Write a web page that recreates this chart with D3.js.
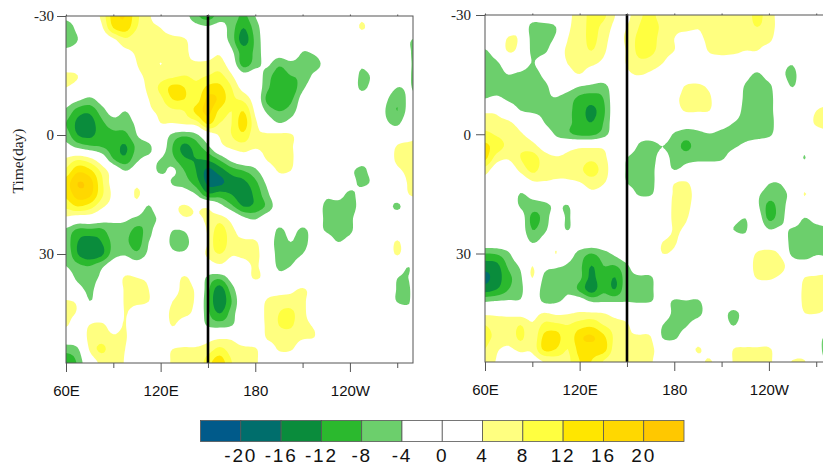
<!DOCTYPE html>
<html><head><meta charset="utf-8">
<script src="https://cdn.jsdelivr.net/npm/d3@7/dist/d3.min.js"></script>
<style>html,body{margin:0;padding:0;background:#fff;overflow:hidden}svg{display:block}</style>
</head><body><svg id="c" width="823" height="466"></svg>
<script>
const levels=[-20,-16,-12,-8,-4,0,4,8,12,16,20];
const bandColors=["#005a8a","#006e6c","#0a8c3c","#2bb92e","#6ccf6c","#ffffff","#ffffff","#ffff80","#ffff40","#ffe600","#ffd800","#ffc800"];
const lonMajor=[60,120,180,240];
const lonMajorLabels=["60E","120E","180","120W"];
const lonMinor=[90,150,210,270];
const dayTicks=[-30,0,30];
const lon0=60,lonStep=7.5,day0=-30,dayStep=3;
const leftField=[
[-3,-2,0,5,14,16,9,4.5,2,0,-2,-7,-10,-6,-5,-9,-4,-1,0,0,0,0,0,0,0,3,0,0,0,0,0],
[-6,-3,-1,3,12,14,8,5,4,2,0,-2,-3,-2,-6,-12,-6,-1,0,0,0,0,0,0,0,4.5,1,0,0,0,0],
[-6,-4,-1,0,3,7,5,5,5,5,4.5,1,0,-1,-6,-14,-7,-1,0,0,-1,0,0,0,0,0,0,0,0,-3.5,-5],
[-3,-2,0,0,1,3,4.5,5,6,6,5,2,1,3,-3,-10,-7,-1,-1,0,-4,-3,0,0,0,0,0,0,0,-3.5,-6],
[0,0,0,0,0,1,4,6,3.9,6,5,4.5,5,6,0,-10,-6,-3,-7,-5,-6,-6,-2,0,0,-3,0,0,-2,-3.5,-6],
[5,4,0,1,0,1,3,5,6,7,8,7,8,9,4.5,-2,-1,-6,-10,-8,-7,-3,-1,0,0,-5,-3,0,-2,-3.6,-6],
[4,2,0,0,0,1,2,5,9,13,12,9,13,13,8,2,0,-7,-11,-11,-5,-1,0,0,0,-5,-2,-1,-4,-3.6,-6],
[-1,-3,-5,-2,0,0,1,4,7,12,12,10,17,15,9,7,1,-9,-11,-9,-2,0,0,0,0,-1,0,-3,-7,-3,-4],
[-5,-10,-11,-6,-2,-4,-1,3,5,7,8,13,17,11,8,12,3,-5,-8,-6,-1,0,0,0,0,0,0,-4,-8,-2,0],
[-8,-13,-14,-9,-6,-6,-3,0,4,4,5,6,13,8,8,14,5,0,-4,-2,0,0,0,0,0,0,0,-3,-5,0,0],
[-6,-12,-13,-10,-9,-9,-4,-1,0,-5,-7,-5,1,4.5,8,11,5,4.5,5,4.5,1,0,0,0,0,0,0,0,0,1,4],
[-2,-5,-7,-8,-10,-12.5,-7,-5,-1,-8,-13,-10,-5,2,5,6,4.5,5,5,4.5,1,0,0,0,0,0,0,0,4.5,6,6],
[4.5,7,5,0,-8,-11,-5,-3,-4,-7,-11.5,-12,-11,-7,-2,1,0,4.5,6,5,0,0,0,0,0,-2,-3,0,5,6,6],
[9,15,13,7,1,-4,-1,-1,-5,-3,-8,-12,-17,-14,-10,-8,-5,0,4.5,4,0,0,0,-1,-3,-5,-2,0,3,5,5],
[14,20,18,9,2,1,3,0,0,-4.5,-6,-10,-17,-17,-14,-13,-9,-3,1,0,0,0,0,0,-2,-5,-3,0,1,4.5,5],
[13,18,17,9,3,1,4.5,1,2,0,-1,-4,-11,-10,-12,-14,-11,-5,0,0,0,0,-3,-2,-5,-2,0,0,0,4,5],
[9,12,10,5,2,1,2,-4.5,3,3,4.5,3,3,-2,-7,-12,-11,-7,-1,0,0,-1,-5,-6,-6,-2,0,-1,-5,0,0],
[3,1,1,-1,-3,-3,-5,-7,-2,1,3.5,3.5,4.5,6,2,-3,-4.5,-1,0,0,0,-1,-5,-7,-5,-1,0,0,0,0,0],
[-5,-9,-9,-9,-5,-6,-9,-6,0,-3.9,-3.5,1,4.5,10,5,2,0,1,-5,-2,-5,-2,-4.5,-6,-5,0,0,0,0,0,0],
[-6,-12,-14,-12,-7,-7,-10,-4,-1,-5,-6,0,4,12,5,4.5,4.5,0,-6,-4,-6,-1,-1,-4,-2,0,0,0,4.5,0,0],
[-5,-12,-15,-13,-6,-4.5,-7,-3,0,-3,-3,0,5,8,4.5,5,5,1,-6,-6,-4,0,0,0,0,0,0,0,4.5,0,0],
[-4,-7,-8,-5,-1,0,-1,0,0,0,0,0,1,3,1,2,4.5,1,-5,-4,0,0,0,0,0,0,0,0,-1,-3.9,0],
[-1,-5,-6,-3,0,4.5,4,3,0,1,4.5,1,-5,-7,-2,1,4.5,2,-2,0,0,0,0,0,0,0,0,0,-3.9,-3.9,0],
[0,-2,-5,-1,0,4.5,5,4,0,2,5,3,-7,-14,-6,0,0,2,2,3,4.5,2,0,0,0,0,0,0,-4.3,-4.3,0],
[4.5,3,-3.9,0,0,4.5,5,4,0,4,5,3,-8,-15,-8,0,1,4.5,6,6,5,1,0,0,0,0,0,0,-4.2,-4.2,0],
[5,3.5,0,0,0,4.2,1,0,1,5,5,2,-7,-12,-6,0,1,5,8,9,5,2,0,0,0,0,0,0,0,-3,-4],
[4.5,1,4.2,5,2,4.2,0,0,0,4.2,1,0,-4.5,-5.5,-4.2,0,1,4.8,8,8.5,5,3.5,0,0,0,0,0,0,0,-3,-4.5],
[-1,0,5,6,4.5,4.5,0,0,0,1,1,1,2,3,3,1,0,4.5,6,6,4.5,4,0,0,0,0,0,0,0,-2,-4],
[-6,-4.5,4.5,9,5,4,0,1,2,4,4.5,4.5,6,9,6,5,4.5,1,4.5,4.5,1,0,0,0,0,0,0,0,0,0,0],
[-12,-7,1,5,4.5,3.8,0,0,1,4.5,5,4.5,10,14,8,7,5,0,1,0,0,0,0,0,0,0,0,0,0,0,0],
[-13,-8,1,5,4.5,3.8,0,0,1,4.5,5,4.5,11,15,8,7,5,0,1,0,0,0,0,0,0,0,0,0,0,0,0]
];
const rightField=[
[0,0,0,0,0,1,1,3,6,9,9,4,3,7,9,6,5,5,5,5,5,5,6,9,6,2,0,0,0,0,0],
[0,0,1,2,-6,-6,-4,3,6,9,7,3,4,8,10,7,5,5,4.2,5,5,5,6,8,6,2,0,0,0,0,0],
[0,0,4.5,3,-5.5,-6,-3,4,6,9,6,2,5,9,10,6,4,2,3,5,6,5,5,5,5,1,0,0,0,0,0],
[-4.5,-1,4.5,2,-5,-5,0,5,6,8,5,1,4.5,9,9,6,4,1,1,4.5,5,5,4,4,2,0,0,0,0,0,0],
[-6,-4.5,-1,0,-4.2,-1,0,4.2,5,5,3,0,4.5,7,6.5,4.2,1,0,0,1,2,1,0,0,0,-2,-3.5,0,0,0,0],
[-6,-5.5,-4,-5,-6,-3,0,2,3.8,1,0,0,3,4.2,3,1,0,0,0,0,0,0,-2,-4.8,-2,-3,-5,-1,0,0,0],
[-6,-6,-5.5,-5,-6,-5,-2,-2,-4,-5,-5.5,-1,1,1,0,0,1,4.5,5,3,0,0,-4.5,-7,-5,-1,-4.2,0,0,0,0],
[-4,-3,-5,-6,-8,-5,-4.2,-6,-9,-10,-8,-1,0,0,0,0,3,5,5.5,4.5,0,0,-5,-7,-6,0,0,0,0,0,0],
[3,3,0,-4,-5,-5,-5.5,-7,-10,-13,-9,-1,0,0,0,0,2,4.5,4.5,4,0,-1,-5.5,-7,-6,0,0,0,3.9,6,6],
[6,5,4.5,2,0,-4,-6,-7,-10,-12,-8,-1,0,0,0,0,0,-1,-1,0,-2,-3.9,-5.5,-7,-6,-1,0,0,5,6,6],
[9,7.5,6,4.5,2,-1,-4.5,-7,-9,-9,-6,-1,0,-2,-2,-1,-4.5,-6,-5,-4.2,-5,-5.5,-5.5,-6,-5,-1,0,0,1,3,3],
[13,10,7,7,5.5,2,0,2,3,3,3,1,0,-4.5,-5.5,-4,-6,-9,-6,-5.5,-5,-4.5,-3,-1,0,0,0,-2,0,0,0],
[13,6,4.5,8,10,6,4.5,5,5.5,7,5,1,-4,-6,-6,-2,-5.5,-5.5,-5,-5,-4.5,-2,0,0,0,0,0,-4.2,0,0,0],
[6,1,1,5,9,6,5,5,7,10,6,1,-4.5,-6,-5.5,-1,-4,-2,-1,-1,-1,0,0,0,0,0,0,-1,0,0,0],
[2,0,0,0,3.5,3.8,3.5,3.5,4,6,4.5,1,-4.2,-5.5,-5.5,0,3.5,4.2,1,0,0,0,0,0,-3.5,-3.5,0,1,0,0,0],
[0,0,0,-4.2,-2,0,1,0,1,3,2,0,-1,-4.5,-4.5,0,4.5,5.5,2,0,0,0,0,-3,-6,-5.5,-2,4.2,0,0,0],
[0,0,0,-4.5,-6,-5.5,-3,-4.2,0,0,0,0,0,0,0,0,5,5.5,1,0,0,0,0,-3,-9,-6,-1,1,0,0,0],
[0,0,2,-1,-9,-6.5,-1,-4.5,0,0,0,0,0,0,0,0,5,4.5,0,0,0,-2,-3.9,-1,-9,-5.5,-1,-4,-2,0,0],
[0,0,0,-1,-8,-5,-1,-4.2,0,0,0,0,0,0,0,0,4.5,3,0,0,0,-4,-4.5,0,-3.8,-3,-4.5,-5.5,-5.5,-5,-5],
[0,0,0,0,-4.5,-2,1,0,0,0,0,0,0,0,0,3.9,4.6,1,0,0,0,0,-2,0,0,0,-6,-6.5,-6,-6,-6],
[-8,-7.5,-4.5,0,0,0,4.1,-1,-5.5,-8,-5.5,-3,0,0,0,4,3,0,0,0,0,0,0,4.5,5.5,3,-5.5,-6.5,-4.5,-5,-5],
[-14,-13,-7,-3,3.9,-2,-3,-4.5,-7,-12,-8,-8,-4.5,-1,0,0,0,0,0,0,0,0,0,6,7,6,0,-1,0,0,0],
[-17,-14,-9,-5,4.2,-5,-6,-5,-7,-13,-9,-12,-5.5,-4.5,-4.5,0,0,0,0,0,0,0,0,4.5,5,3,0,3.9,4.5,5,5],
[-14,-12,-8,-5,-0.5,-6,-8,-5,-9,-14,-9,-12,-5,-5.5,-5,0,0,0,0,0,0,0,0,0,0,0,0,5,6,6,6],
[-4.5,-3.8,-3.5,-3.5,0,-5,-5,-2,-1,-4.5,-4.5,-4.5,-4.2,-4.5,-4.2,-2,-4.5,-4.2,-4.5,-1,0,0,0,0,0,0,0,5,5.5,5,5],
[3,3,3,2,2,4.2,3,3.5,4.5,4.5,4,2,1,0,0,-1,-5,-6,-5.5,-1,-2,-5,-2,0,0,0,0,3.9,4.2,3,2],
[8,6,5,8,4.5,9,9,8,10,11,8,6,4.5,1,0,-3.9,-6,-4.5,-1,0,-1,-4.2,-1,0,0,0,0,0,0,0,0],
[9,7,5,9,5,13,14,9,15,16.5,13,7,4.5,4.5,4.2,-4.3,-5,-1,0,0,0,0,0,0,0,0,0,0,-2,-5,-5],
[8,4.5,3.5,5,5,13,12,8,13.5,14,14,6,4.5,5,5,1,0,0,4.5,1,0,4,4.5,4.5,4.5,1,0,0,-2,-6,-6],
[5,3.8,1,2,2,4.5,6,7,12,12,8,5,4.5,5,4.5,1,0,0,2,4.5,0,4.3,5,5,5,1,4.2,4.2,-1,-5,-5],
[5,3.8,1,2,2,4.5,6,7,12,12,8,5,4.5,5,4.5,1,0,0,2,4.5,0,4.3,5,5,5,1,4.2,4.2,-1,-5,-5]
];
const svg=d3.select("#c");
const panels=[
 {id:"l",field:leftField,x0:66,x1:413,y0:16,y1:363,xScale:d3.scaleLinear([60,280],[66,413]),yScale:d3.scaleLinear([-30,30],[16,254]),line:208,ylabel:true,pad:3},
 {id:"r",field:rightField,x0:485,x1:832,y0:15,y1:362,xScale:d3.scaleLinear([60,280],[485,832]),yScale:d3.scaleLinear([-30,30],[15,253.5]),line:627,ylabel:false,pad:5}
];
function cr(a,b,c,d,t){return 0.5*((2*b)+(-a+c)*t+(2*a-5*b+4*c-d)*t*t+(-a+3*b-3*c+d)*t*t*t);}
function upsample(f,k){
 const m=f.length,n=f[0].length,W=(n-1)*k+1,H=(m-1)*k+1,v=new Float64Array(W*H);
 const g=(r,c)=>f[Math.max(0,Math.min(m-1,r))][Math.max(0,Math.min(n-1,c))];
 for(let j=0;j<H;j++){const r=Math.floor(j/k),tr=j/k-r;
  for(let i=0;i<W;i++){const c=Math.floor(i/k),tc=i/k-c;
   const p=[-1,0,1,2].map(dr=>cr(g(r+dr,c-1),g(r+dr,c),g(r+dr,c+1),g(r+dr,c+2),tc));
   v[j*W+i]=cr(p[0],p[1],p[2],p[3],tr);
  }}
 return {v,W,H};
}
const K=5;
panels.forEach(p=>{
 const clipId="clip"+p.id;
 svg.append("clipPath").attr("id",clipId).append("rect").attr("x",p.x0).attr("y",p.y0).attr("width",p.x1-p.x0).attr("height",p.y1-p.y0);
 const g=svg.append("g").attr("clip-path",`url(#${clipId})`);
 g.append("rect").attr("x",p.x0).attr("y",p.y0).attr("width",p.x1-p.x0).attr("height",p.y1-p.y0).attr("fill",bandColors[0]);
 const {v,W,H}=upsample(p.field,K);
 const tr=d3.geoTransform({point(x,y){
   this.stream.point(p.xScale(lon0+lonStep*(x-0.5)/K),p.yScale(day0+dayStep*(y-0.5)/K));
 }});
 const path=d3.geoPath(tr);
 const cs=d3.contours().size([W,H]).smooth(true).thresholds(levels)(Array.from(v));
 cs.forEach((c,i)=>{g.append("path").attr("d",path(c)).attr("fill",bandColors[i+1]).attr("stroke","none");});
 svg.append("line").attr("x1",p.line).attr("x2",p.line).attr("y1",p.y0-1).attr("y2",p.y1).attr("stroke","#000").attr("stroke-width",2.6);
 svg.append("rect").attr("x",p.x0).attr("y",p.y0).attr("width",p.x1-p.x0).attr("height",p.y1-p.y0).attr("fill","none").attr("stroke","#555").attr("stroke-width",1);
 const bot=svg.append("g").attr("transform",`translate(0,${p.y1})`).call(d3.axisBottom(p.xScale).tickValues(lonMajor).tickSize(9).tickSizeOuter(0).tickPadding(13).tickFormat((d,i)=>lonMajorLabels[i]));
 bot.select(".domain").remove();
 bot.selectAll("line").attr("stroke","#555").attr("stroke-width",1);
 bot.selectAll("text").attr("font-family","'Liberation Sans',sans-serif").attr("font-size",15).attr("fill","#111");
 const bot2=svg.append("g").attr("transform",`translate(0,${p.y1})`).call(d3.axisBottom(p.xScale).tickValues(lonMinor).tickSize(5).tickSizeOuter(0).tickFormat(""));
 bot2.select(".domain").remove();bot2.selectAll("line").attr("stroke","#555");
 const top=svg.append("g").attr("transform",`translate(0,${p.y0})`).call(d3.axisTop(p.xScale).tickValues(lonMajor.concat(lonMinor)).tickSize(1.5).tickSizeOuter(0).tickFormat(""));
 top.select(".domain").remove();top.selectAll("line").attr("stroke","#555");
 const left=svg.append("g").attr("transform",`translate(${p.x0},0)`).call(d3.axisLeft(p.yScale).tickValues(dayTicks).tickSize(9).tickSizeOuter(0).tickPadding(p.pad).tickFormat(d=>String(d)));
 left.select(".domain").remove();left.selectAll("line").attr("stroke","#555");
 left.selectAll("text").attr("font-family","'Liberation Serif',serif").attr("font-size",15).attr("fill","#222");
 if(p.ylabel){svg.append("text").attr("transform","translate(23,161) rotate(-90)").attr("text-anchor","middle").attr("font-family","'Liberation Serif',serif").attr("font-size",15.5).attr("textLength",65).attr("fill","#222").text("Time(day)");}
});
const barX=d3.scaleBand(d3.range(bandColors.length),[200.5,684]);
svg.append("g").selectAll("rect").data(bandColors).join("rect").attr("x",(d,i)=>barX(i)).attr("y",420.5).attr("width",barX.bandwidth()).attr("height",21).attr("fill",d=>d).attr("stroke","#555").attr("stroke-width",0.8);
svg.append("g").selectAll("text").data(levels).join("text").attr("x",(d,i)=>barX(i+1)).attr("y",461.5).attr("text-anchor","middle").attr("font-family","'Liberation Sans',sans-serif").attr("font-size",19).attr("letter-spacing","1.8").attr("fill","#111").text(d=>String(d));
</script></body></html>
